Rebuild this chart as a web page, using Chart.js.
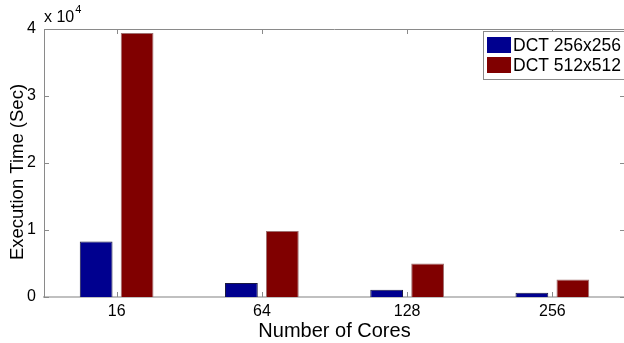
<!DOCTYPE html>
<html>
<head>
<meta charset="utf-8">
<script src="https://cdn.jsdelivr.net/npm/chart.js@4.4.1/dist/chart.umd.min.js"></script>
<style>
  html, body { margin: 0; padding: 0; background: #fff; overflow: hidden; }
  #wrap { width: 640px; height: 343px; }
</style>
</head>
<body>
<div id="wrap"><canvas id="chart" width="640" height="343"></canvas></div>
<script>
// data (seconds)
const cores = ['16', '64', '128', '256'];
const dct256 = [8300, 2100, 1100, 650];
const dct512 = [39400, 9850, 5000, 2600];
const yTicks = [0, 10000, 20000, 30000, 40000];

const FONT = "'Liberation Sans', Arial, sans-serif";

// box, inward ticks, y label, exponent label and legend (MATLAB look)
const matlabAxes = {
    id: 'matlabAxes',
    afterDraw(chart) {
        const ctx = chart.ctx;
        const a = chart.chartArea;
        const x = chart.scales.x;
        const y = chart.scales.y;
        ctx.save();
        ctx.strokeStyle = '#8a8a8a';
        ctx.lineWidth = 1;
        // top border
        ctx.beginPath();
        ctx.moveTo(a.left, a.top + 0.5);
        ctx.lineTo(a.right, a.top + 0.5);
        ctx.stroke();
        // inward ticks
        ctx.beginPath();
        cores.forEach((c, i) => {
            const px = Math.round(x.getPixelForValue(i)) + 0.5;
            ctx.moveTo(px, a.bottom); ctx.lineTo(px, a.bottom - 5);
            ctx.moveTo(px, a.top); ctx.lineTo(px, a.top + 5);
        });
        yTicks.forEach(v => {
            const py = Math.round(y.getPixelForValue(v)) + 0.5;
            ctx.moveTo(a.left, py); ctx.lineTo(a.left + 5, py);
            ctx.moveTo(a.right, py); ctx.lineTo(a.right - 5, py);
        });
        ctx.stroke();

        // y axis label
        ctx.fillStyle = '#000';
        ctx.save();
        ctx.translate(18, 172);
        ctx.rotate(-Math.PI / 2);
        ctx.font = '18.5px ' + FONT;
        ctx.textAlign = 'center';
        ctx.textBaseline = 'middle';
        ctx.fillText('Execution Time (Sec)', 0, 0);
        ctx.restore();

        // exponent
        ctx.textBaseline = 'alphabetic';
        ctx.font = '16px ' + FONT;
        ctx.fillText('x 10', a.left, 22);
        const w = ctx.measureText('x 10').width;
        ctx.font = '11px ' + FONT;
        ctx.fillText('4', a.left + w + 1, 13);

        // legend
        const lx = 483, ly = 31, lw = 150, lh = 48;
        ctx.fillStyle = '#fff';
        ctx.fillRect(lx, ly, lw, lh);
        ctx.strokeStyle = '#8a8a8a';
        ctx.strokeRect(lx + 0.5, ly + 0.5, lw, lh);
        ctx.font = '17.5px ' + FONT;
        ctx.textBaseline = 'middle';
        chart.data.datasets.forEach((ds, i) => {
            const cy = ly + 14 + i * 20;
            ctx.fillStyle = ds.backgroundColor;
            ctx.fillRect(lx + 4, cy - 8, 24, 16);
            ctx.fillStyle = '#000';
            ctx.fillText(ds.label, lx + 30, cy + 1);
        });
        ctx.restore();
    }
};

new Chart(document.getElementById('chart').getContext('2d'), {
    type: 'bar',
    data: {
        labels: cores,
        datasets: [
            {
                label: 'DCT 256x256',
                data: dct256,
                backgroundColor: '#00008f',
                borderColor: '#1a1a40',
                borderWidth: 1
            },
            {
                label: 'DCT 512x512',
                data: dct512,
                backgroundColor: '#800000',
                borderColor: '#a07070',
                borderWidth: 1
            }
        ]
    },
    options: {
        responsive: false,
        animation: false,
        layout: { padding: { top: 29, right: 15, left: 0, bottom: 0 } },
        categoryPercentage: 0.564,
        barPercentage: 0.8,
        plugins: {
            legend: { display: false },
            tooltip: { enabled: false }
        },
        scales: {
            x: {
                grid: { display: false, drawTicks: false },
                border: { color: '#c0c0c0', width: 2 },
                ticks: {
                    color: '#000',
                    font: { family: FONT, size: 16 },
                    padding: 5,
                    maxRotation: 0
                },
                title: {
                    display: true,
                    text: 'Number of Cores',
                    color: '#000',
                    font: { family: FONT, size: 20 },
                    padding: { top: 0, bottom: 0 }
                },
                afterFit(scale) { scale.height = 46; }
            },
            y: {
                min: 0,
                max: 40000,
                grid: { display: false, drawTicks: false },
                border: { color: '#8a8a8a', width: 1 },
                afterBuildTicks(scale) {
                    scale.ticks = yTicks.map(v => ({ value: v }));
                },
                ticks: {
                    color: '#000',
                    font: { family: FONT, size: 16 },
                    padding: 8,
                    callback: v => String(v / 10000)
                },
                afterFit(scale) { scale.width = 44; }
            }
        }
    },
    plugins: [matlabAxes]
});
</script>
</body>
</html>
